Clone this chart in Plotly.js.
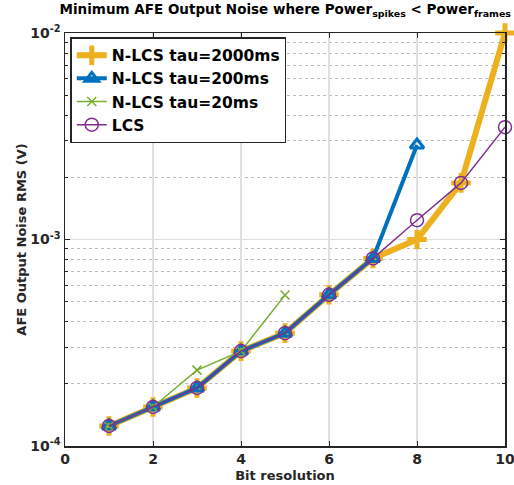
<!DOCTYPE html>
<html><head><meta charset="utf-8">
<script src="https://cdn.plot.ly/plotly-3.0.1.min.js"></script>
<style>html,body{margin:0;padding:0;background:#fff}</style>
</head><body><div id="c" style="width:514px;height:485px"></div>
<script>
const bits = [1,2,3,4,5,6,7,8,9,10];
const tau2000 = [1.25e-4,1.545e-4,1.91e-4,2.88e-4,3.52e-4,5.4e-4,8.1e-4,1.0e-3,1.88e-3,1.0e-2];
const bits200 = [1,2,3,4,5,6,7,8];
const tau200 = [1.25e-4,1.545e-4,1.91e-4,2.88e-4,3.52e-4,5.4e-4,8.1e-4,2.87e-3];
const bits20 = [1,2,3,4,5];
const tau20 = [1.25e-4,1.545e-4,2.33e-4,2.88e-4,5.38e-4];
const lcs = [1.25e-4,1.545e-4,1.91e-4,2.88e-4,3.52e-4,5.4e-4,8.1e-4,1.24e-3,1.88e-3,3.5e-3];
const names = ['N-LCS tau=2000ms','N-LCS tau=200ms','N-LCS tau=20ms','LCS'];
const xtickvals = [0,2,4,6,8,10];
const ytickvals = [1e-4,1e-3,1e-2];
const yticktext = ['10<sup>-4</sup>','10<sup>-3</sup>','10<sup>-2</sup>'];
const yminorvals = [2e-4,3e-4,4e-4,5e-4,6e-4,7e-4,8e-4,9e-4,2e-3,3e-3,4e-3,5e-3,6e-3,7e-3,8e-3,9e-3];

const traces = [
 {x:bits,y:tau2000,name:names[0],mode:'lines+markers',cliponaxis:false,line:{color:'#EDB120',width:6},
  marker:{symbol:'cross-thin-open',size:14,line:{color:'#EDB120',width:5},color:'#EDB120'}},
 {x:bits200,y:tau200,name:names[1],mode:'lines+markers',cliponaxis:false,line:{color:'#0072BD',width:4},
  marker:{symbol:'triangle-up-open',size:12,line:{color:'#0072BD',width:3},color:'#0072BD'}},
 {x:bits20,y:tau20,name:names[2],mode:'lines+markers',cliponaxis:false,line:{color:'#77AC30',width:1.5},
  marker:{symbol:'x-thin-open',size:9,line:{color:'#77AC30',width:1.5},color:'#77AC30'}},
 {x:bits,y:lcs,name:names[3],mode:'lines+markers',cliponaxis:false,line:{color:'#7E2F8E',width:1.5},
  marker:{symbol:'circle-open',size:13,line:{color:'#7E2F8E',width:1.5},color:'#7E2F8E'}}
];
const layout = {
 width:514,height:485,margin:{l:65,r:9,t:33,b:39},
 paper_bgcolor:'#fff',plot_bgcolor:'#fff',
 font:{family:'DejaVu Sans, sans-serif',size:13,color:'#262626',weight:'bold'},
 title:{text:'Minimum AFE Output Noise where Power<sub>spikes</sub> &lt; Power<sub>frames</sub>',
   font:{size:13.5,weight:'bold',color:'#000'},x:0.555,xanchor:'center',y:0.99,yanchor:'top'},
 xaxis:{range:[-0.0001,10.0001],tickvals:xtickvals,ticktext:['0','2','4','6','8','10'],ticks:'inside',ticklen:5,tickcolor:'#262626',
   showline:true,linecolor:'#262626',linewidth:1.5,mirror:'ticks',showgrid:true,gridcolor:'#e0e0e0',gridwidth:1.5,
   zeroline:false,tickfont:{size:14,weight:'bold'},ticklabeloverflow:'allow',
   title:{text:'Bit resolution',font:{size:13,weight:'bold'},standoff:4}},
 yaxis:{type:'log',range:[-4.0001,-1.9999],tickvals:ytickvals,ticktext:yticktext,ticks:'inside',ticklen:5,tickcolor:'#262626',
   showline:true,linecolor:'#262626',linewidth:1.5,mirror:'ticks',showgrid:true,gridcolor:'#e0e0e0',gridwidth:1.5,
   zeroline:false,tickfont:{size:14,weight:'bold'},
   minor:{tickvals:yminorvals,ticks:'inside',ticklen:3,tickcolor:'#262626',showgrid:true,gridcolor:'#bdbdbd',griddash:'dot',gridwidth:1},
   title:{text:'AFE Output Noise RMS (V)',font:{size:13,weight:'bold'},standoff:1}},
 legend:{x:0.012,y:0.99,xanchor:'left',yanchor:'top',bgcolor:'#fff',bordercolor:'#262626',borderwidth:1.5,
   font:{size:15.5,weight:'bold',color:'#000'},tracegroupgap:0,itemwidth:30},
 showlegend:true
};
Plotly.newPlot('c',traces,layout,{displayModeBar:false,staticPlot:true});
</script></body></html>
